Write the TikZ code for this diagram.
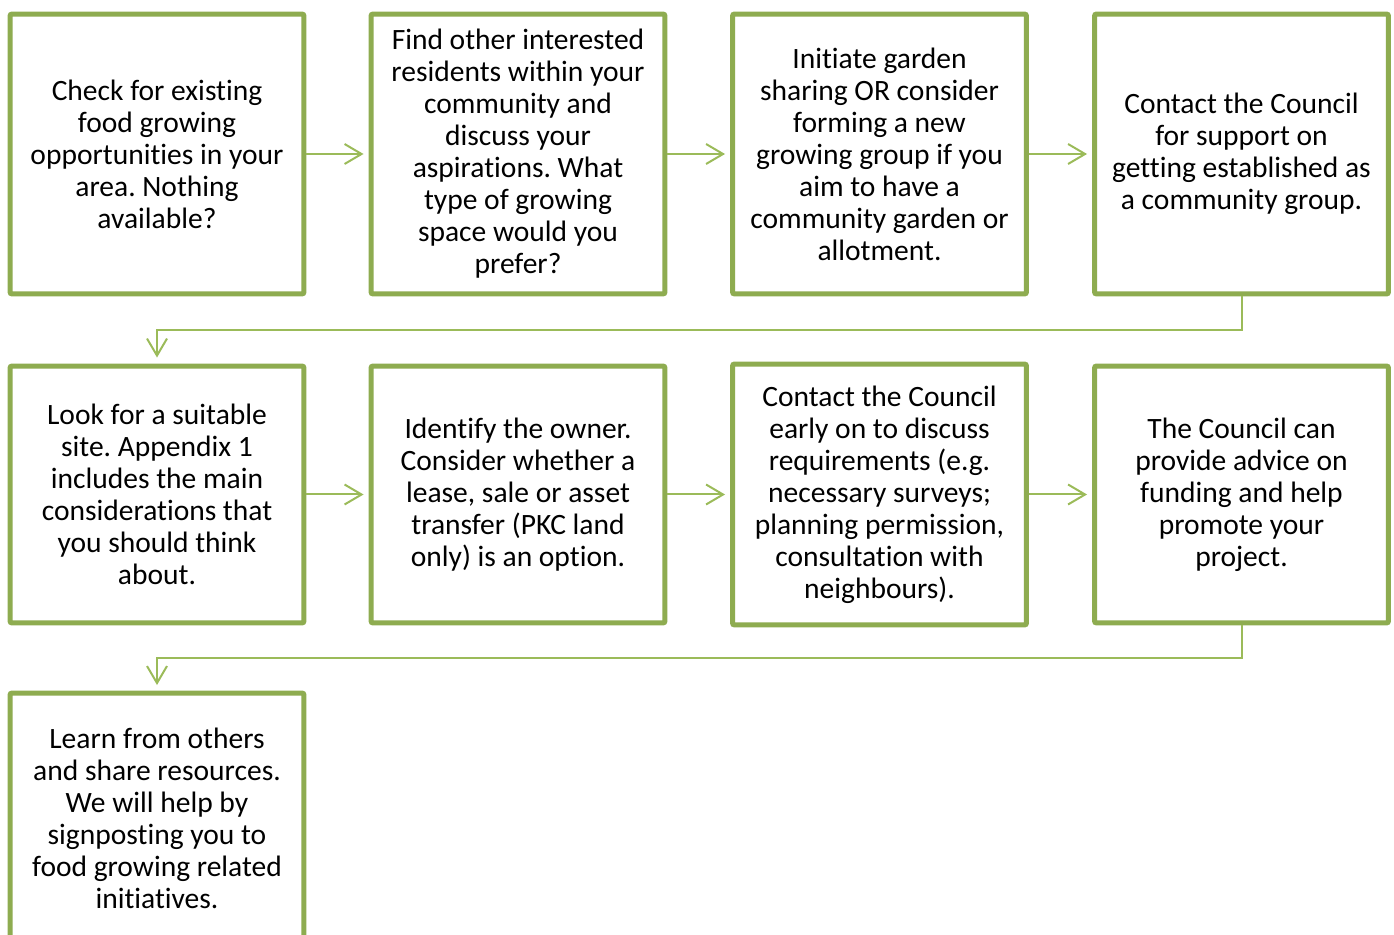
\documentclass[tikz,border=0pt]{standalone}
\usepackage{fontspec}
\setmainfont{Carlito}[Ligatures=NoCommon]
\frenchspacing
\usetikzlibrary{positioning,arrows.meta}
\definecolor{boxgreen}{HTML}{8EAC50}
\definecolor{linegreen}{HTML}{9BBB59}
\tikzset{
	stepbox/.style={draw=boxgreen, line width=0.1cm, rounded corners=0.04cm, fill=white, align=center, minimum width=5.88cm, inner sep=0pt, font=\fontsize{16.8pt}{18.2pt}\selectfont},
	flow/.style={draw=linegreen, line width=0.04cm, -{Straight Barb[length=0.34cm, width=0.40cm]}, shorten >=0.1cm}
}
\begin{document}
\begin{tikzpicture}[x=0.02cm, y=-0.02cm]
		\useasboundingbox (0,0) rectangle (1394,935);
		
		\node[stepbox, minimum height=5.6cm] (check) at (157,154) {Check for existing\\food growing\\opportunities in your\\area. Nothing\\available?};
		\node[stepbox, minimum height=5.6cm] (find) at (518,154) {Find other interested\\residents within your\\community and\\discuss your\\aspirations. What\\type of growing\\space would you\\prefer?};
		\node[stepbox, minimum height=5.6cm] (initiate) at (879.5,154) {Initiate garden\\sharing OR consider\\forming a new\\growing group if you\\aim to have a\\community garden or\\allotment.};
		\node[stepbox, minimum height=5.6cm] (contact) at (1241.5,154) {Contact the Council\\for support on\\getting established as\\a community group.};
		
		\node[stepbox, minimum height=5.14cm] (site) at (157,494.5) {Look for a suitable\\site. Appendix 1\\includes the main\\considerations that\\you should think\\about.};
		\node[stepbox, minimum height=5.14cm] (owner) at (518,494.5) {Identify the owner.\\Consider whether a\\lease, sale or asset\\transfer (PKC land\\only) is an option.};
		\node[stepbox, minimum height=5.22cm] (early) at (879.5,494.5) {Contact the Council\\early on to discuss\\requirements (e.g.\\necessary surveys;\\planning permission,\\consultation with\\neighbours).};
		\node[stepbox, minimum height=5.14cm] (advice) at (1241.5,494.5) {The Council can\\provide advice on\\funding and help\\promote your\\project.};
		
		\node[stepbox, minimum height=5cm] (learn) at (157,818) {Learn from others\\and share resources.\\We will help by\\signposting you to\\food growing related\\initiatives.};
		
		\coordinate (turn1) at (0,330);
		\coordinate (turn2) at (0,658);
		
		\draw[flow] (check) -- (find);
		\draw[flow] (find) -- (initiate);
		\draw[flow] (initiate) -- (contact);
		\draw[flow, shorten >=0.12cm] (contact.south) -- (contact.south |- turn1) -| (site.north);
		
		\draw[flow] (site) -- (owner);
		\draw[flow] (owner) -- (early);
		\draw[flow] (early) -- (advice);
		\draw[flow, shorten >=0.11cm] (advice.south) -- (advice.south |- turn2) -| (learn.north);
	\end{tikzpicture}
\end{document}
